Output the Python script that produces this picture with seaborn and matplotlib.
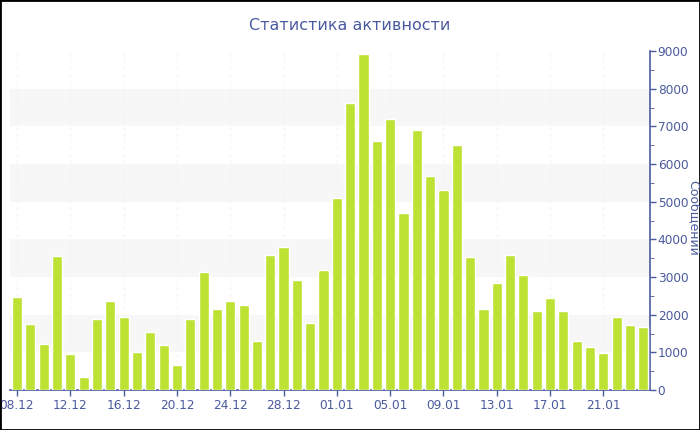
import matplotlib
matplotlib.use('Agg')
import matplotlib.pyplot as plt
import matplotlib.patches as mpatches
import seaborn as sns
import pandas as pd

# Daily message counts, 08.12 - 24.01
dates = pd.date_range('2023-12-08', '2024-01-24', freq='D')
day_labels = [d.strftime('%d.%m') for d in dates]
messages = [2480, 1760, 1230, 3550, 960, 350, 1890, 2370, 1940, 1010,
            1530, 1200, 670, 1875, 3130, 2155, 2350, 2255, 1310, 3585,
            3795, 2910, 1790, 3185,
            5110, 7625, 8925, 6610, 7200, 4690, 6910, 5690, 5305, 6510,
            3530, 2150, 2840, 3575, 3045, 2095, 2440, 2090, 1310, 1150,
            990, 1945, 1735, 1680]
band_ranges = [(1000, 2000), (3000, 4000), (5000, 6000), (7000, 8000)]

text_color = '#4a5a9e'
bar_color = '#bde233'

sns.set_style('white')
plt.rcParams['font.family'] = ['DejaVu Sans']

fig = plt.figure(figsize=(7, 4.3), dpi=100)
ax = fig.add_axes([10 / 700, 40 / 430, 640 / 700, 339 / 430])

df = pd.DataFrame({'day': day_labels, 'count': messages})
sns.barplot(data=df, x='day', y='count', color=bar_color, saturation=1,
            width=0.76, ax=ax, zorder=3)

# alternating light bands
for lo, hi in band_ranges:
    ax.axhspan(lo, hi, color='#f7f7f7', zorder=0, lw=0)

ax.set_xlim(-0.53, 47.5)
ax.set_ylim(0, 9000)

ax.yaxis.tick_right()
ax.set_yticks(range(0, 9001, 1000))
ax.set_yticks(range(500, 9000, 1000), minor=True)
ax.set_ylabel('')
ax.set_xlabel('')

tick_pos = list(range(0, len(day_labels), 4))
ax.set_xticks(tick_pos)
ax.set_xticklabels([day_labels[i] for i in tick_pos])
ax.xaxis.grid(True, color='#f3f3f3', linestyle=(0, (3, 3)), lw=0.8, zorder=1)

ax.tick_params(axis='both', colors=text_color, labelsize=8.7, length=4,
               width=1, direction='out', pad=1.5)
ax.tick_params(axis='y', which='minor', colors=text_color, length=3)
ax.tick_params(axis='x', bottom=True, pad=2.5)

for side in ['top', 'left']:
    ax.spines[side].set_visible(False)
for side in ['bottom', 'right']:
    ax.spines[side].set_color(text_color)
    ax.spines[side].set_linewidth(1.2)

fig.text(350 / 700, 1 - 25 / 430, 'Статистика активности', ha='center',
         va='center', color=text_color, fontsize=11.5)
fig.text(693 / 700, 1 - 218 / 430, 'Сообщений', ha='center', va='center',
         rotation=270, color=text_color, fontsize=9)

fig.patches.append(mpatches.Rectangle((0, 0), 1, 1, transform=fig.transFigure,
                                      fill=False, edgecolor='black', lw=2))

fig.savefig('out.png', dpi=100)
